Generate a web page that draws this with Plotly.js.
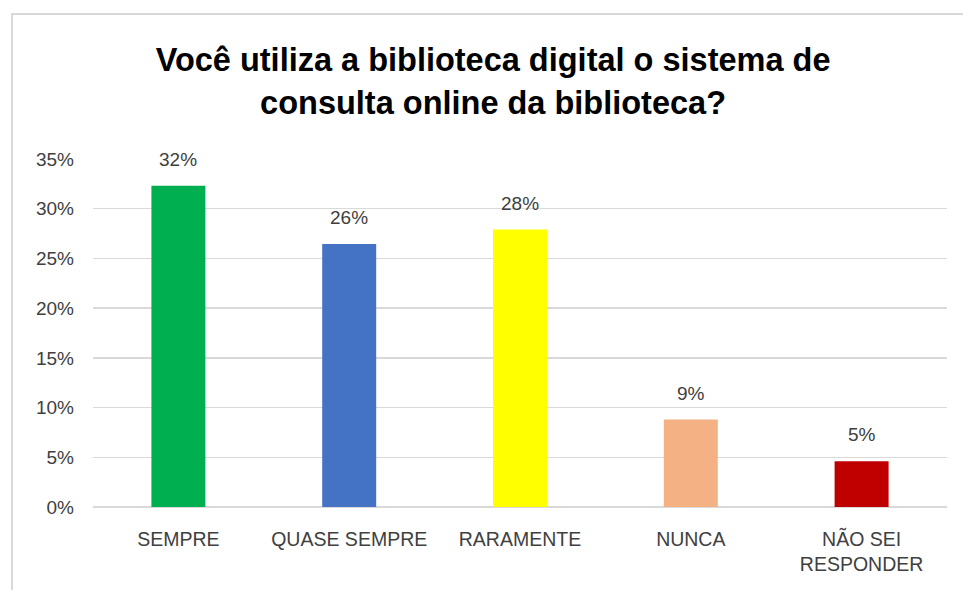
<!DOCTYPE html>
<html>
<head>
<meta charset="utf-8">
<script src="https://cdn.plot.ly/plotly-3.0.1.min.js"></script>
<style>
html,body{margin:0;padding:0;background:#fff;}
#chart{width:963px;height:590px;}
</style>
</head>
<body>
<div id="chart"></div>
<script>
const categories = ["SEMPRE", "QUASE SEMPRE", "RARAMENTE", "NUNCA", "NÃO SEI<br>RESPONDER"];
const values = [0.323, 0.2645, 0.279, 0.088, 0.046];
const colors = ["#00B050", "#4472C4", "#FFFF00", "#F4B183", "#C00000"];
const yTicks = [0, 0.05, 0.10, 0.15, 0.20, 0.25, 0.30, 0.35];
const titleText = "Você utiliza a biblioteca digital o sistema de<br>consulta online da biblioteca?";

const FONT = "Liberation Sans, Arial, sans-serif";
const TXT = "#404040";

const trace = {
  type: "bar",
  x: categories,
  y: values,
  marker: {color: colors, line: {width: 0}},
  hoverinfo: "skip"
};

const annotations = categories.map((c, i) => ({
  x: c, y: values[i], xref: "x", yref: "y",
  text: Math.round(values[i] * 100) + "%",
  showarrow: false, yanchor: "bottom", yshift: 14,
  font: {family: FONT, size: 19, color: TXT}
}));

const layout = {
  width: 963, height: 590,
  margin: {l: 93, r: 16, t: 159, b: 83},
  paper_bgcolor: "#fff", plot_bgcolor: "#fff",
  showlegend: false,
  bargap: 0.684,
  title: {
    text: titleText,
    x: 0.512, xanchor: "center", xref: "container",
    y: 0.879, yanchor: "middle", yref: "container",
    font: {family: FONT, size: 32.5, color: "#000", weight: "bold"}
  },
  xaxis: {
    type: "category",
    showgrid: false, zeroline: false, showline: false,
    ticks: "",
    tickfont: {family: FONT, size: 19.5, color: TXT},
    ticklabelstandoff: 18
  },
  yaxis: {
    range: [0, 0.35],
    tickvals: yTicks,
    tickformat: ".0%",
    showgrid: true, gridcolor: "#d9d9d9", gridwidth: 1.5,
    zeroline: true, zerolinecolor: "#d9d9d9", zerolinewidth: 1.5,
    showline: false, ticks: "",
    tickfont: {family: FONT, size: 19, color: TXT},
    ticklabelstandoff: 18
  },
  annotations: annotations,
  shapes: [{
    type: "rect", xref: "paper", yref: "paper",
    x0: -0.0948, x1: 1.2, y0: -0.5, y1: 1.4167,
    line: {color: "#d9d9d9", width: 2}, fillcolor: "rgba(0,0,0,0)", layer: "below"
  }]
};

Plotly.newPlot("chart", [trace], layout, {displayModeBar: false, staticPlot: true});
</script>
</body>
</html>
